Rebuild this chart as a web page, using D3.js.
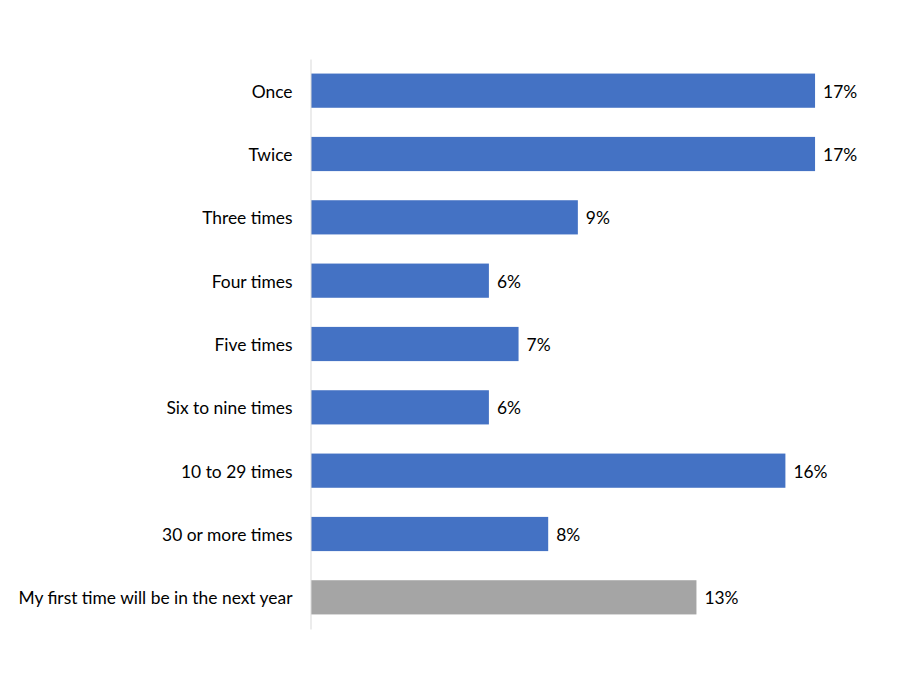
<!DOCTYPE html>
<html>
<head>
<meta charset="utf-8">
<script src="https://cdn.jsdelivr.net/npm/d3@7"></script>
<style>
  body { margin: 0; background: #fff; }
  text { font-family: Lato, "Open Sans", sans-serif; fill: #000; }
</style>
</head>
<body>
<div id="chart"></div>
<script>
// categories and values (percent)
var categories = ["Once", "Twice", "Three times", "Four times", "Five times",
  "Six to nine times", "10 to 29 times", "30 or more times",
  "My first time will be in the next year"];
var values = [17, 17, 9, 6, 7, 6, 16, 8, 13];
var valueLabels = ["17%", "17%", "9%", "6%", "7%", "6%", "16%", "8%", "13%"];

var width = 900, height = 675;
var left = 311;
var fontSize = "17.4px";

var svg = d3.select("#chart").append("svg")
  .attr("width", width)
  .attr("height", height);

var x = d3.scaleLinear()
  .domain([0, 20])
  .range([left, left + 593]);

var y = d3.scaleBand()
  .domain(categories)
  .range([59, 629])
  .paddingInner(0.46)
  .paddingOuter(0.23);

// bars
svg.selectAll("rect.bar")
  .data(categories)
  .enter()
  .append("rect")
  .attr("class", "bar")
  .attr("x", x(0))
  .attr("y", d => y(d))
  .attr("width", (d, i) => x(values[i]) - x(0))
  .attr("height", y.bandwidth())
  .attr("fill", (d, i) => i == categories.length - 1 ? "#A5A5A5" : "#4472C4");

// value labels
svg.selectAll("text.val")
  .data(categories)
  .enter()
  .append("text")
  .attr("class", "val")
  .attr("x", (d, i) => x(values[i]) + 8)
  .attr("y", d => y(d) + y.bandwidth() / 2 + 1)
  .attr("dy", "0.35em")
  .style("font-size", fontSize)
  .text((d, i) => valueLabels[i]);

// category axis
var yAxis = svg.append("g")
  .attr("transform", `translate(${x(0) - 0.5},0)`)
  .call(d3.axisLeft(y).tickSize(0).tickPadding(18));

yAxis.select(".domain").attr("stroke", "#d9d9d9");
yAxis.selectAll("text")
  .attr("dy", "0.4em")
  .style("font-size", fontSize)
  .style("font-family", "Lato, 'Open Sans', sans-serif");
</script>
</body>
</html>
